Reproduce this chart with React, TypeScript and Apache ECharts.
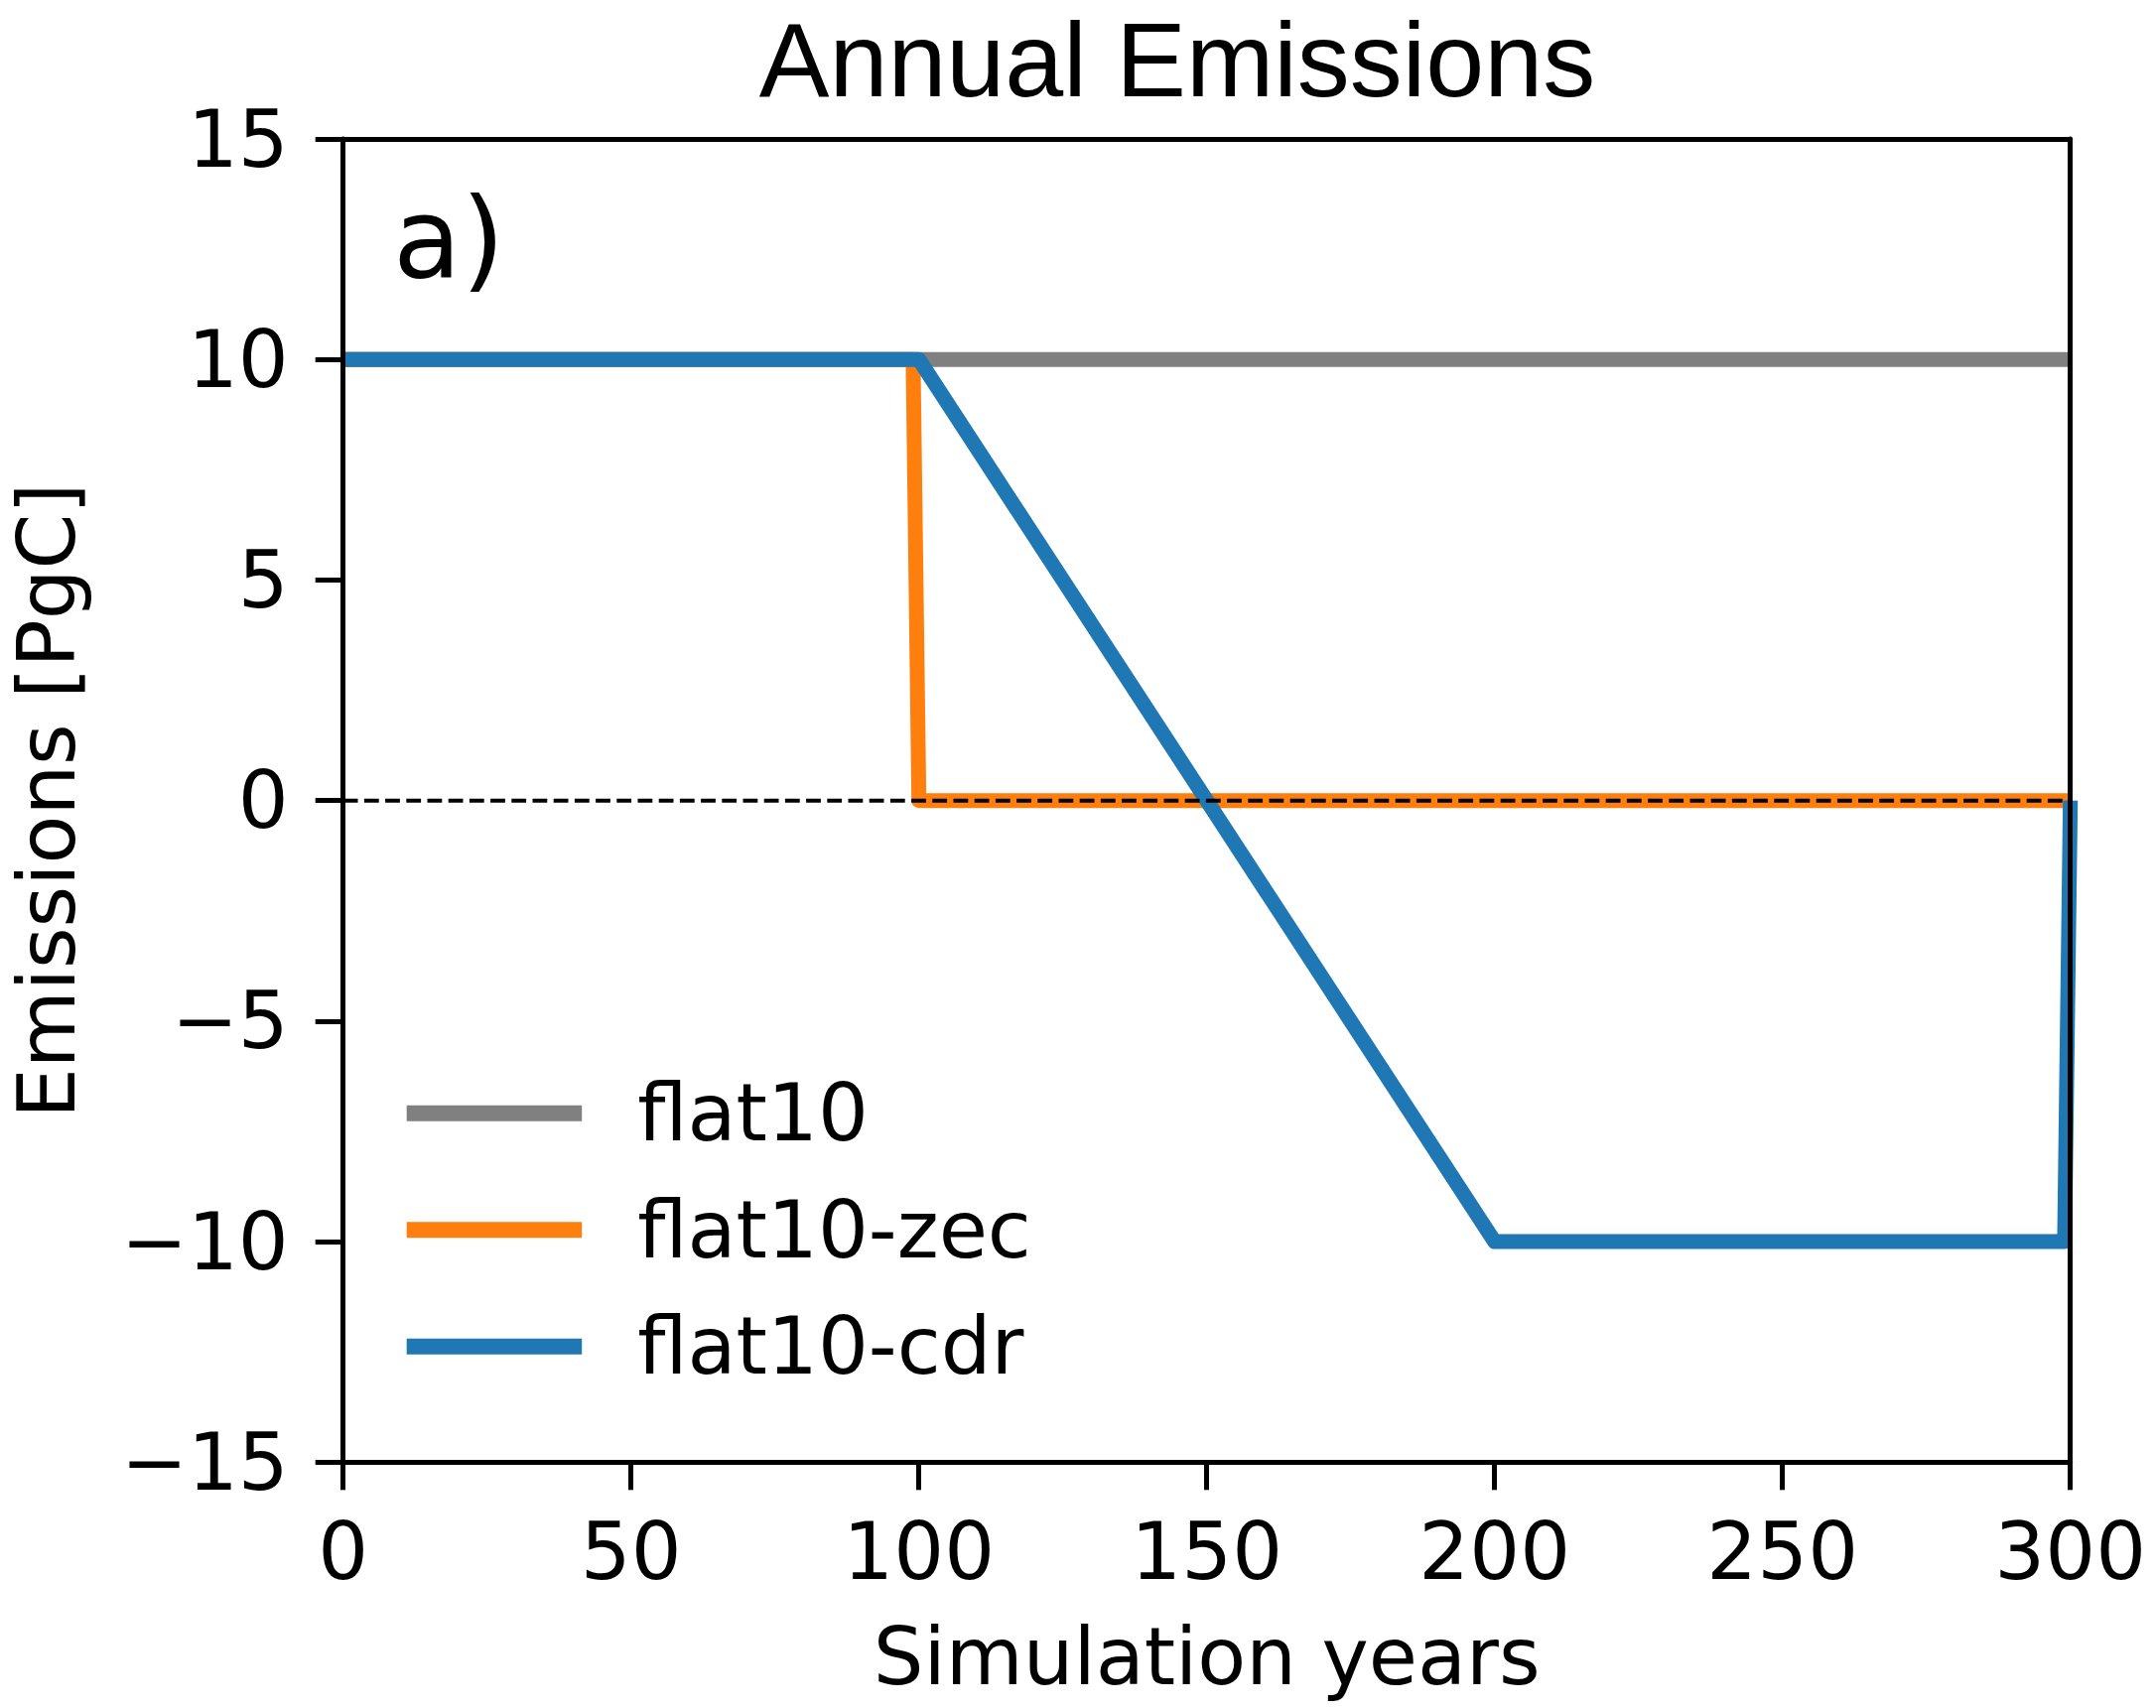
import React, { useEffect, useRef } from "react";
import * as echarts from "echarts";

// ---- data ----
const seriesNames = ["flat10", "flat10-zec", "flat10-cdr"];
const seriesColors = ["#808080", "#ff7f0e", "#1f77b4"];
const flat10: [number, number][] = [
  [0, 10],
  [300, 10],
];
const flat10Zec: [number, number][] = [
  [0, 10],
  [99, 10],
  [100, 0],
  [300, 0],
];
const flat10Cdr: [number, number][] = [
  [0, 10],
  [100, 10],
  [150, 0],
  [200, -10],
  [299, -10],
  [300, 0],
];
const zeroLine: [number, number][] = [
  [0, 0],
  [300, 0],
];
const xRange = { min: 0, max: 300, interval: 50 };
const yRange = { min: -15, max: 15, interval: 5 };
const titleText = "Annual Emissions";
const panelLabel = "a)";
const xName = "Simulation years";
const yName = "Emissions [PgC]";

const FONT = "DejaVu Sans";

export default function App() {
  const ref = useRef<HTMLDivElement>(null);
  useEffect(() => {
    document.body.style.margin = "0";
    if (!ref.current) return;
    const chart = echarts.init(ref.current, undefined, { renderer: "svg" });
    const allData = [flat10, flat10Zec, flat10Cdr];
    const spine = { show: true, onZero: false, lineStyle: { color: "#000", width: 5 } };
    chart.setOption({
      animation: false,
      backgroundColor: "#fff",
      title: {
        text: titleText,
        left: 1186,
        top: 15,
        textAlign: "center",
        padding: 0,
        textStyle: {
          fontFamily: "Liberation Sans",
          fontSize: 106,
          fontWeight: "normal",
          color: "#000",
          lineHeight: 90,
        },
      },
      grid: {
        left: 345.7,
        right: 86.3,
        top: 140,
        bottom: 247.7,
        containLabel: false,
        outerBoundsMode: "none",
      },
      xAxis: [
        {
          type: "value",
          min: xRange.min,
          max: xRange.max,
          interval: xRange.interval,
          z: 10,
          name: xName,
          nameLocation: "middle",
          nameGap: 156,
          nameTextStyle: { fontFamily: FONT, fontSize: 80, color: "#000", lineHeight: 80 },
          axisLine: spine,
          axisTick: { show: true, length: 28, lineStyle: { color: "#000", width: 5 } },
          axisLabel: { fontFamily: FONT, fontSize: 80, color: "#000", margin: 50, lineHeight: 80 },
          splitLine: { show: false },
        },
        {
          type: "value",
          position: "top",
          min: xRange.min,
          max: xRange.max,
          interval: xRange.interval,
          z: 10,
          axisLine: spine,
          axisTick: { show: false },
          axisLabel: { show: false },
          splitLine: { show: false },
        },
      ],
      yAxis: [
        {
          type: "value",
          min: yRange.min,
          max: yRange.max,
          interval: yRange.interval,
          z: 10,
          name: yName,
          nameLocation: "middle",
          nameGap: 258,
          nameTextStyle: { fontFamily: FONT, fontSize: 80, color: "#000", lineHeight: 80 },
          axisLine: spine,
          axisTick: { show: true, length: 28, lineStyle: { color: "#000", width: 5 } },
          axisLabel: {
            fontFamily: FONT,
            fontSize: 80,
            color: "#000",
            margin: 55,
            lineHeight: 80,
            formatter: (v: number) => (v < 0 ? "\u2212" + Math.abs(v) : String(v)),
          },
          splitLine: { show: false },
        },
        {
          type: "value",
          position: "right",
          min: yRange.min,
          max: yRange.max,
          interval: yRange.interval,
          z: 10,
          axisLine: spine,
          axisTick: { show: false },
          axisLabel: { show: false },
          splitLine: { show: false },
        },
      ],
      legend: {
        data: seriesNames.map((n) => ({ name: n, icon: "rect" })),
        orient: "vertical",
        left: 409.7,
        top: 1081.7,
        padding: 0,
        itemWidth: 176.5,
        itemHeight: 16,
        itemGap: 37.5,
        selectedMode: false,
        itemStyle: { borderWidth: 0 },
        textStyle: {
          fontFamily: FONT,
          fontSize: 80,
          color: "#000",
          lineHeight: 80,
          padding: [0, 0, 0, 51],
        },
      },
      graphic: [
        {
          type: "text",
          x: 396,
          y: 240,
          z: 20,
          style: {
            text: panelLabel,
            font: `112px "${FONT}"`,
            fill: "#000",
            verticalAlign: "middle",
            align: "left",
          },
        },
      ],
      series: [
        ...seriesNames.map((name, i) => ({
          type: "line",
          name,
          data: allData[i],
          symbol: "none",
          showSymbol: false,
          silent: true,
          color: seriesColors[i],
          z: 2 + i,
          lineStyle: { color: seriesColors[i], width: 15, join: "round", cap: "butt" },
          itemStyle: { color: seriesColors[i] },
        })),
        {
          type: "line",
          name: "zero",
          data: zeroLine,
          symbol: "none",
          showSymbol: false,
          silent: true,
          z: 6,
          lineStyle: { color: "#000", width: 4, type: [14.8, 6.4] },
        },
      ],
    });
    return () => chart.dispose();
  }, []);
  return <div ref={ref} style={{ width: 2172, height: 1721 }} />;
}
